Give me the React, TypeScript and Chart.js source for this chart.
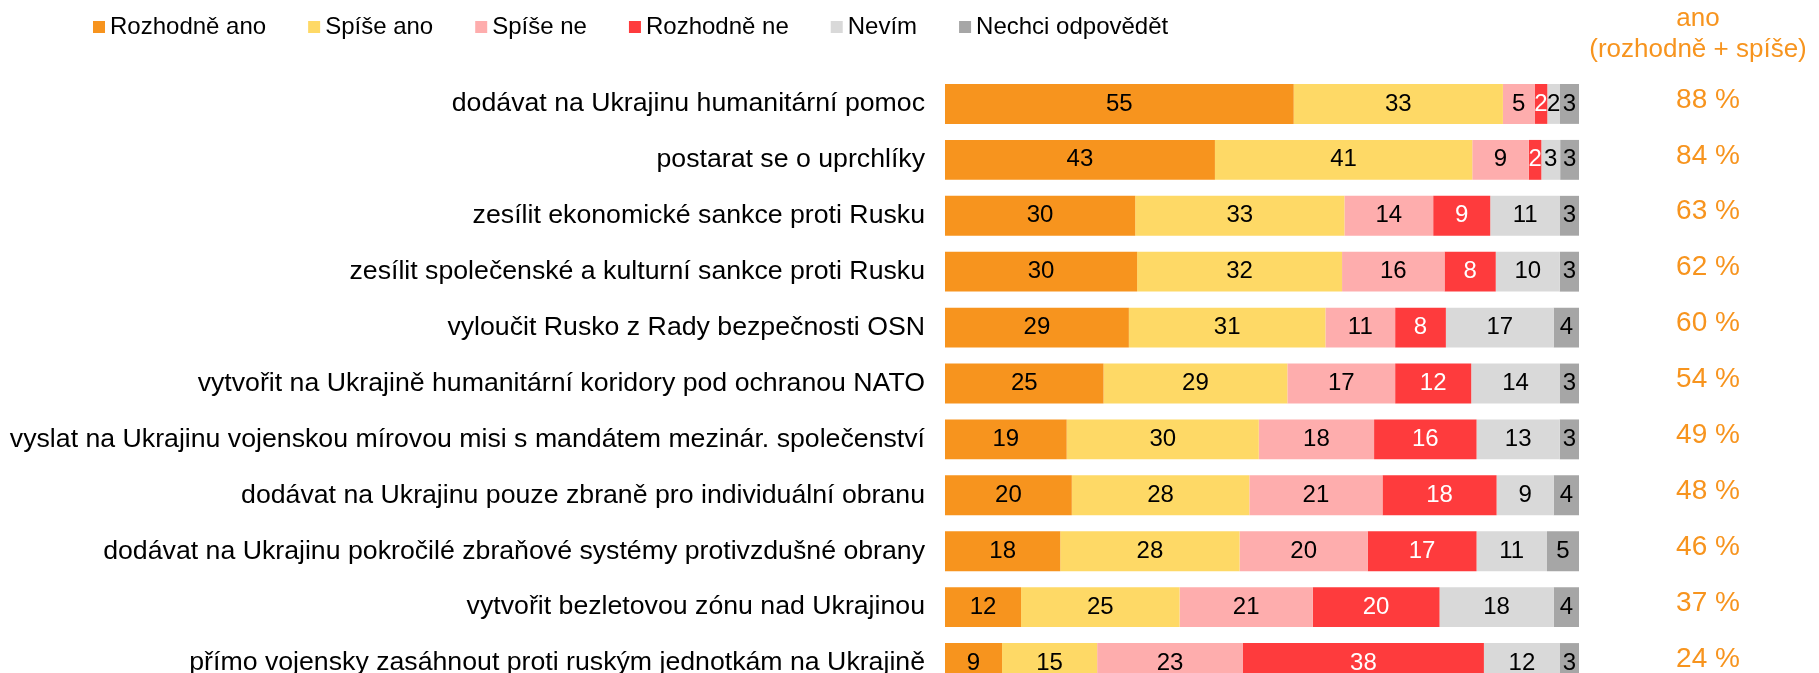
import React, { useEffect, useRef } from "react";
import { Chart, registerables } from "chart.js";

Chart.register(...registerables);

const FONT = '"Liberation Sans", Arial, Helvetica, sans-serif';

const categories = [
  "dodávat na Ukrajinu humanitární pomoc",
  "postarat se o uprchlíky",
  "zesílit ekonomické sankce proti Rusku",
  "zesílit společenské a kulturní sankce proti Rusku",
  "vyloučit Rusko z Rady bezpečnosti OSN",
  "vytvořit na Ukrajině humanitární koridory pod ochranou NATO",
  "vyslat na Ukrajinu vojenskou mírovou misi s mandátem mezinár. společenství",
  "dodávat na Ukrajinu pouze zbraně pro individuální obranu",
  "dodávat na Ukrajinu pokročilé zbraňové systémy protivzdušné obrany",
  "vytvořit bezletovou zónu nad Ukrajinou",
  "přímo vojensky zasáhnout proti ruským jednotkám na Ukrajině",
];

const rozhodneAno = [55, 43, 30, 30, 29, 25, 19, 20, 18, 12, 9];
const spiseAno = [33, 41, 33, 32, 31, 29, 30, 28, 28, 25, 15];
const spiseNe = [5, 9, 14, 16, 11, 17, 18, 21, 20, 21, 23];
const rozhodneNe = [2, 2, 9, 8, 8, 12, 16, 18, 17, 20, 38];
const nevim = [2, 3, 11, 10, 17, 14, 13, 9, 11, 18, 12];
const nechci = [3, 3, 3, 3, 4, 3, 3, 4, 5, 4, 3];

const anoTotals = [88, 84, 63, 62, 60, 54, 49, 48, 46, 37, 24];

const seriesLabels = [
  "Rozhodně ano",
  "Spíše ano",
  "Spíše ne",
  "Rozhodně ne",
  "Nevím",
  "Nechci odpovědět",
];
const seriesValues = [rozhodneAno, spiseAno, spiseNe, rozhodneNe, nevim, nechci];
const seriesColors = ["#F7941E", "#FED966", "#FEADAD", "#FE3B3D", "#D9D9D9", "#A6A6A6"];
const valueColors = ["#000", "#000", "#000", "#fff", "#000", "#000"];

const headerLines = ["ano", "(rozhodně + spíše)"];
const ACCENT = "#F7941E";

const rowSums = categories.map((_, i) =>
  seriesValues.reduce((s, arr) => s + arr[i], 0)
);

const overlayPlugin = {
  id: "overlay",
  afterDatasetsDraw(chart: any) {
    const ctx = chart.ctx as CanvasRenderingContext2D;
    ctx.save();
    // values inside bars
    ctx.font = `24px ${FONT}`;
    ctx.textAlign = "center";
    ctx.textBaseline = "middle";
    chart.data.datasets.forEach((_: any, di: number) => {
      const meta = chart.getDatasetMeta(di);
      meta.data.forEach((bar: any, i: number) => {
        const p = bar.getProps(["x", "base", "y"], true);
        ctx.fillStyle = valueColors[di];
        ctx.fillText(String(seriesValues[di][i]), (p.x + p.base) / 2, p.y);
      });
    });

    // ano totals on right
    const meta0 = chart.getDatasetMeta(0);
    ctx.font = `28px ${FONT}`;
    ctx.fillStyle = ACCENT;
    const pctX = chart.chartArea.right + 129;
    meta0.data.forEach((bar: any, i: number) => {
      ctx.fillText(`${anoTotals[i]} %`, pctX, bar.y - 4);
    });

    // header
    ctx.font = `26px ${FONT}`;
    ctx.textBaseline = "alphabetic";
    const hx = chart.chartArea.right + 119;
    ctx.fillText(headerLines[0], hx, 26);
    ctx.fillText(headerLines[1], hx, 57);

    // legend
    ctx.font = `24px ${FONT}`;
    ctx.textAlign = "left";
    ctx.textBaseline = "middle";
    let lx = 93;
    const ly = 27;
    seriesLabels.forEach((lab, di) => {
      ctx.fillStyle = seriesColors[di];
      ctx.fillRect(lx, ly - 6, 12, 12);
      ctx.fillStyle = "#000";
      ctx.fillText(lab, lx + 17, ly);
      lx += 17 + ctx.measureText(lab).width + 42;
    });
    ctx.restore();
  },
};

export default function App() {
  const ref = useRef<HTMLCanvasElement>(null);
  useEffect(() => {
    if (!ref.current) return;
    const chart = new Chart(ref.current, {
      type: "bar",
      data: {
        labels: categories,
        datasets: seriesLabels.map((lab, di) => ({
          label: lab,
          data: seriesValues[di].map((v, i) => (v / rowSums[i]) * 100),
          backgroundColor: seriesColors[di],
          borderWidth: 0,
          barPercentage: 0.713,
          categoryPercentage: 1,
        })),
      },
      options: {
        indexAxis: "y",
        animation: false,
        responsive: false,
        devicePixelRatio: 1,
        layout: { padding: { top: 76, bottom: 11, right: 240, left: 0 } },
        plugins: {
          legend: { display: false },
          tooltip: { enabled: false },
        },
        scales: {
          x: { stacked: true, min: 0, max: 100, display: false },
          y: {
            stacked: true,
            grid: { display: false, drawTicks: false },
            border: { display: false },
            ticks: {
              autoSkip: false,
              color: "#000",
              padding: 20,
              font: { family: FONT, size: 26.7 },
            },
            afterFit(scale: any) {
              scale.width = 945;
            },
          },
        },
      },
      plugins: [overlayPlugin],
    } as any);
    return () => chart.destroy();
  }, []);
  return (
    <div
      style={{
        position: "absolute",
        left: 0,
        top: 0,
        width: 1819,
        height: 673,
        overflow: "hidden",
        background: "#fff",
      }}
    >
      <canvas ref={ref} width={1819} height={727} style={{ display: "block" }} />
    </div>
  );
}
